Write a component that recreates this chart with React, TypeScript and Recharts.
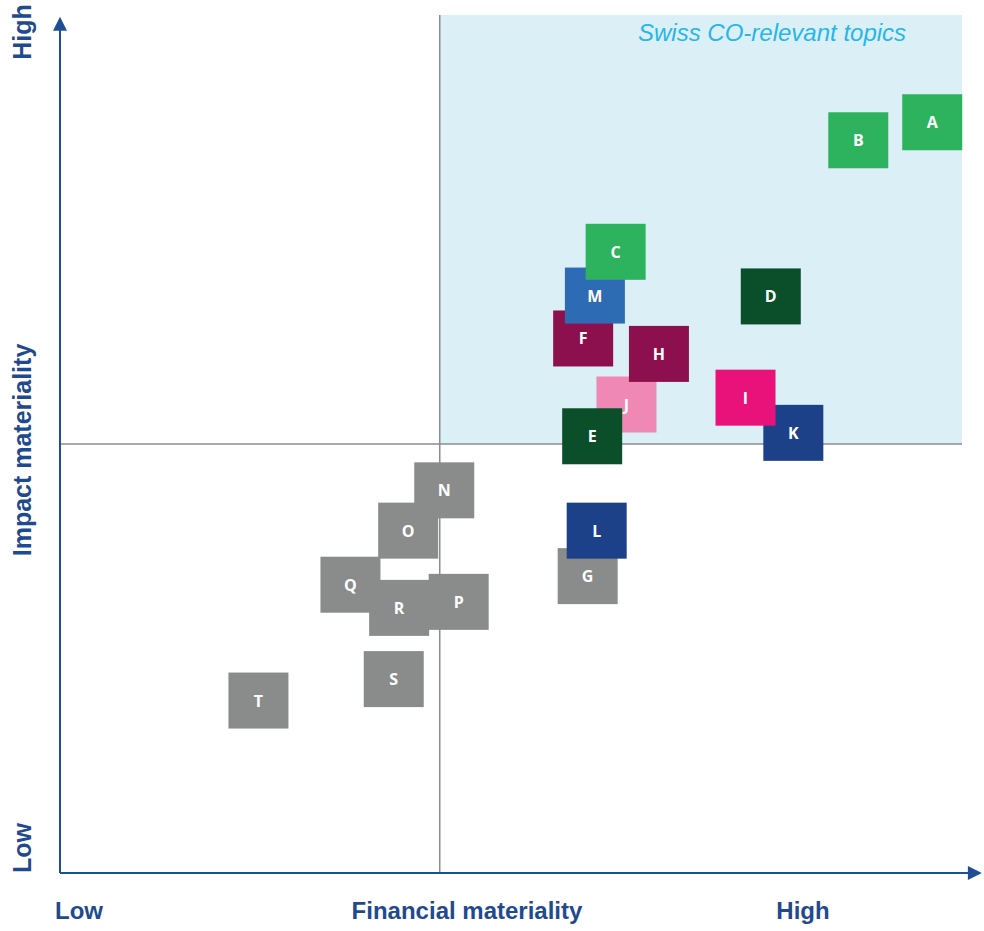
import React from "react";
import {
  ScatterChart,
  Scatter,
  XAxis,
  YAxis,
  ReferenceArea,
  ReferenceLine,
} from "recharts";

// Topics in drawing order (later ones sit on top where squares overlap).
const TOPICS = ["A", "B", "F", "M", "C", "D", "J", "H", "E", "K", "I", "G", "L", "O", "N", "T", "S", "Q", "R", "P"];
// Financial materiality (0 = low, 100 = high)
const FINANCIAL = [96.7, 88.5, 58.0, 59.3, 61.6, 78.8, 62.8, 66.4, 59.0, 81.3, 76.0, 58.5, 59.5, 38.6, 42.6, 22.0, 37.0, 32.2, 37.6, 44.2];
// Impact materiality (0 = low, 100 = high)
const IMPACT = [87.5, 85.4, 62.3, 67.3, 72.4, 67.2, 54.6, 60.5, 50.9, 51.3, 55.4, 34.6, 39.9, 39.9, 44.6, 20.1, 22.6, 33.6, 30.9, 31.6];

// thresholds for the "relevant" quadrant
const X_THRESHOLD = 42.1;
const Y_THRESHOLD = 50;

const TOPIC_COLORS: Record<string, string> = {
  A: "#2db35d",
  B: "#2db35d",
  C: "#2db35d",
  M: "#2e6bb5",
  F: "#8c0f4e",
  H: "#8c0f4e",
  J: "#f088b5",
  E: "#0a4f2a",
  D: "#0a4f2a",
  I: "#e8127a",
  K: "#1c4189",
  L: "#1c4189",
};
const GREY = "#8a8c8c";
const AXIS = "#1f4e96";
const LABEL = "#1f4a8f";

const data = TOPICS.map((t, i) => ({ topic: t, x: FINANCIAL[i], y: IMPACT[i] }));

function TopicBox(props: any) {
  const { cx, cy, payload } = props;
  const fill = TOPIC_COLORS[payload.topic] ?? GREY;
  return (
    <g>
      <rect x={cx - 30} y={cy - 28} width={60} height={56} fill={fill} />
      <text
        x={cx}
        y={cy + 6}
        textAnchor="middle"
        fill="#ffffff"
        fontFamily="'Open Sans', sans-serif"
        fontWeight={700}
        fontSize={16}
      >
        {payload.topic}
      </text>
    </g>
  );
}

function ArrowLine(props: any) {
  const { x1, y1, x2, y2 } = props;
  const horizontal = Math.abs(y2 - y1) < Math.abs(x2 - x1);
  const head = horizontal
    ? `${x2},${y2} ${x2 - 14},${y2 - 7} ${x2 - 14},${y2 + 7}`
    : `${x2},${y2} ${x2 - 7},${y2 + 14} ${x2 + 7},${y2 + 14}`;
  return (
    <g>
      <line
        x1={x1}
        y1={y1}
        x2={horizontal ? x2 - 10 : x2}
        y2={horizontal ? y2 : y2 + 10}
        stroke={AXIS}
        strokeWidth={2}
      />
      <polygon points={head} fill={AXIS} />
    </g>
  );
}

const labelStyle: React.CSSProperties = {
  position: "absolute",
  fontFamily: "'Liberation Sans Narrow', 'Liberation Sans', Arial, sans-serif",
  fontWeight: 700,
  fontSize: 24,
  color: LABEL,
  whiteSpace: "nowrap",
  lineHeight: 1,
};

const yLabelStyle: React.CSSProperties = { ...labelStyle, fontSize: 25, left: 22 };

export default function App() {
  return (
    <div style={{ position: "absolute", left: 0, top: 0, width: 984, height: 931, background: "#fff" }}>
      <ScatterChart width={984} height={931} margin={{ top: 15, right: 22, bottom: 58, left: 60 }}>
        <XAxis type="number" dataKey="x" domain={[0, 100]} hide />
        <YAxis type="number" dataKey="y" domain={[0, 100]} hide />
        <ReferenceArea
          x1={X_THRESHOLD}
          x2={100}
          y1={Y_THRESHOLD}
          y2={100}
          fill="#daf0f6"
          fillOpacity={1}
          stroke="none"
          ifOverflow="visible"
        />
        <ReferenceLine x={X_THRESHOLD} stroke="#8c8c8c" strokeWidth={1.5} />
        <ReferenceLine y={Y_THRESHOLD} stroke="#8c8c8c" strokeWidth={1.5} />
        <ReferenceLine
          segment={[{ x: 0, y: 0 }, { x: 102.2, y: 0 }]}
          ifOverflow="visible"
          shape={ArrowLine}
        />
        <ReferenceLine
          segment={[{ x: 0, y: 0 }, { x: 0, y: 99.8 }]}
          ifOverflow="visible"
          shape={ArrowLine}
        />
        <Scatter data={data} shape={TopicBox} isAnimationActive={false} />
      </ScatterChart>

      <div
        style={{
          position: "absolute",
          left: 638,
          top: 21,
          fontFamily: "'Liberation Sans', Arial, sans-serif",
          fontStyle: "italic",
          fontSize: 24,
          lineHeight: 1,
          color: "#29b5e8",
          whiteSpace: "nowrap",
        }}
      >
        Swiss CO-relevant topics
      </div>

      <div style={{ ...labelStyle, left: 55, top: 899 }}>Low</div>
      <div style={{ ...labelStyle, left: 467, top: 899, transform: "translateX(-50%)" }}>Financial materiality</div>
      <div style={{ ...labelStyle, left: 803, top: 899, transform: "translateX(-50%)" }}>High</div>

      <div style={{ ...yLabelStyle, top: 32, transform: "translate(-50%, -50%) rotate(-90deg)" }}>High</div>
      <div style={{ ...yLabelStyle, top: 450, transform: "translate(-50%, -50%) rotate(-90deg)" }}>Impact materiality</div>
      <div style={{ ...yLabelStyle, top: 848, transform: "translate(-50%, -50%) rotate(-90deg)" }}>Low</div>
    </div>
  );
}
